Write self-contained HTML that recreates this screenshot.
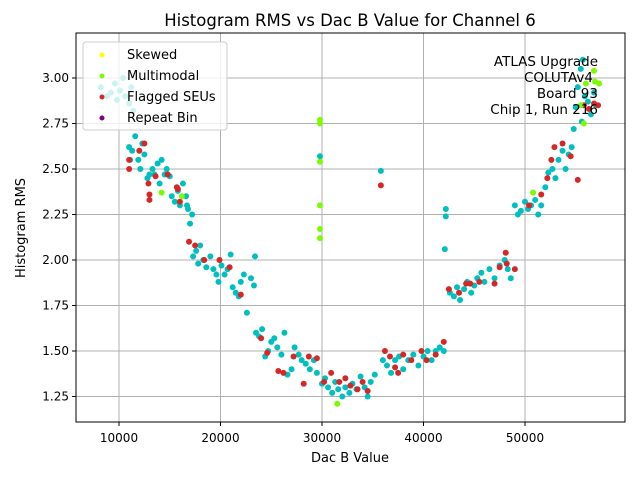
<!DOCTYPE html>
<html><head><meta charset="utf-8"><style>
body{margin:0;background:#fff;}
svg text{font-family:"DejaVu Sans","Liberation Sans",sans-serif;fill:#000;}
</style></head><body>
<svg id="chart" width="640" height="480" xmlns="http://www.w3.org/2000/svg">
<rect width="640" height="480" fill="#fff"/>
<g id="grid"></g>
<g id="marks"></g>
<rect x="76" y="33" width="549" height="389" fill="none" stroke="#000" stroke-width="1"/>
<g id="ticks"></g>
<text x="350" y="26" text-anchor="middle" font-size="16.5">Histogram RMS vs Dac B Value for Channel 6</text>
<text x="350" y="462" text-anchor="middle" font-size="13">Dac B Value</text>
<text x="25" y="228" text-anchor="middle" font-size="13" transform="rotate(-90 25 228)">Histogram RMS</text>
<g font-size="13.5" text-anchor="end">
<text x="598" y="66">ATLAS Upgrade</text>
<text x="593" y="82">COLUTAv4</text>
<text x="598" y="98">Board 93</text>
<text x="598" y="114">Chip 1, Run 216</text>
</g>
<g>
<rect x="83" y="42" width="144" height="88" rx="3" fill="#fff" fill-opacity="0.8" stroke="#ccc"/>
<g><circle cx="102" cy="55" r="2.5" fill="#ffff00"/><text x="127" y="59" font-size="13">Skewed</text></g>
<g><circle cx="102" cy="76" r="2.5" fill="#7cfc00"/><text x="127" y="80" font-size="13">Multimodal</text></g>
<g><circle cx="102" cy="97" r="2.5" fill="#d62728"/><text x="127" y="101" font-size="13">Flagged SEUs</text></g>
<g><circle cx="102" cy="118" r="2.5" fill="#800080"/><text x="127" y="122" font-size="13">Repeat Bin</text></g>
</g>
</svg>
<script>
const xTicks=[10000,20000,30000,40000,50000];
const yTicks=[1.25,1.5,1.75,2.0,2.25,2.5,2.75,3.0];
const yTickLabels=["1.25","1.50","1.75","2.00","2.25","2.50","2.75","3.00"];
const cyanPts=[[8200,2.95],[8800,2.9],[9200,2.92],[9600,2.97],[9800,2.88],[10100,2.93],[10400,3.0],[10600,2.9],[11200,2.95],[11400,2.82],[11000,2.86],
[11000,2.62],[11100,2.55],[11300,2.6],[11600,2.68],[11900,2.55],[12100,2.5],[12300,2.64],[12500,2.58],[12800,2.45],[13000,2.47],[13300,2.5],[13500,2.47],[13800,2.53],[14000,2.42],[14200,2.55],[14500,2.47],[14700,2.5],[15000,2.46],[15200,2.35],[15500,2.32],[15800,2.38],[16000,2.3],[16300,2.42],[16600,2.35],[16800,2.28],[17000,2.2],[17200,2.25],[16700,2.3],
[17300,2.02],[17600,2.05],[17800,1.98],[18000,2.08],[18300,2.0],[18600,1.96],[19000,2.02],[19300,1.95],[19600,1.92],[19800,1.88],[20100,1.97],[20400,1.92],[20700,1.95],[21000,2.03],[21200,1.85],[21500,1.82],[21800,1.8],[22000,1.88],[22300,1.92],[22600,1.71],[23000,1.9],[23300,1.86],[23400,2.02],
[23500,1.6],[23800,1.58],[24100,1.62],[24400,1.47],[24700,1.5],[25000,1.55],[25300,1.57],[25600,1.52],[26000,1.48],[26300,1.6],[26600,1.37],[27000,1.4],[27300,1.52],[27700,1.48],[28000,1.45],[28400,1.43],[28800,1.4],[29200,1.45],[29500,1.38],[29800,2.57],
[30000,1.32],[30300,1.35],[30600,1.3],[31000,1.27],[31300,1.33],[31600,1.29],[32000,1.25],[32300,1.3],[32700,1.27],[33000,1.32],[33400,1.29],[33800,1.36],[34200,1.3],[34500,1.25],[34800,1.33],[35200,1.37],[35800,2.49],[36000,1.45],[36400,1.42],[36800,1.38],[37200,1.45],[37600,1.47],[38000,1.4],[38500,1.45],[39000,1.48],[39500,1.42],[40000,1.47],[40400,1.5],[40800,1.45],[41200,1.5],[41600,1.52],[42000,1.5],
[42200,2.28],[42200,2.24],[42100,2.06],[42600,1.82],[43000,1.8],[43300,1.85],[43600,1.78],[44000,1.84],[44300,1.88],[44700,1.82],[45000,1.86],[45300,1.9],[45700,1.93],[46000,1.88],[46500,1.95],[47000,1.9],[47500,1.97],[48000,2.0],[48300,1.95],[48600,1.9],[49000,2.3],[49300,2.25],[49600,2.27],[50000,2.32],[50300,2.28],[50600,2.3],[51000,2.33],[51300,2.25],[51600,2.3],[52000,2.4],[52300,2.48],[52700,2.5],[53000,2.45],[53300,2.55],[53700,2.6],[54000,2.5],[54300,2.58],[54600,2.62],[54800,2.72],[55000,2.84],[55200,2.95],[55500,3.05],[55700,3.1],[55900,2.9],[56200,2.87],[56500,2.8],[56800,2.92],[57000,2.85],[55600,2.76]];
const redPts=[[11000,2.5],[11000,2.55],[12500,2.64],[12000,2.6],[13000,2.33],[13000,2.36],[12900,2.42],[13600,2.46],[14800,2.47],[15700,2.4],[15800,2.39],[16000,2.32],[16900,2.1],[17500,2.08],[18400,2.0],[19900,2.0],[20900,1.96],[22000,1.81],[24000,1.57],[24600,1.49],[25700,1.39],[26200,1.38],[27200,1.47],[28200,1.32],[28700,1.47],[29500,1.46],[30200,1.33],[30900,1.38],[31700,1.33],[32300,1.35],[32800,1.31],[33500,1.29],[34000,1.33],[34500,1.28],[35800,2.41],[36200,1.5],[36700,1.47],[37200,1.41],[37500,1.38],[38000,1.48],[38800,1.45],[39800,1.5],[40300,1.45],[41200,1.48],[42000,1.55],[42500,1.84],[43500,1.82],[44200,1.87],[44600,1.87],[45500,1.88],[47000,1.87],[47500,1.96],[48100,2.04],[48200,1.98],[49000,1.95],[50400,2.3],[51600,2.36],[52200,2.45],[52600,2.55],[52900,2.62],[53700,2.64],[54500,2.57],[55200,2.44],[55800,2.85],[56300,2.83],[56800,2.86],[57200,2.85]];
const greenPts=[[29800,2.77],[29800,2.75],[29800,2.54],[29800,2.3],[29800,2.17],[29800,2.12],[31500,1.21],[14200,2.37],[16200,2.35],[50800,2.37],[56800,3.04],[56900,2.98],[56000,2.97],[57300,2.97],[55500,2.85],[55800,2.75]];
const NS="http://www.w3.org/2000/svg";
function xs(v){return 17.5+v*101.5/10000;}
function ys(v){return 78+(3-v)*182;}
const grid=document.getElementById('grid'),ticks=document.getElementById('ticks'),marks=document.getElementById('marks');
function mk(tag,attrs,parent){const e=document.createElementNS(NS,tag);for(const k in attrs)e.setAttribute(k,attrs[k]);parent.appendChild(e);return e;}
xTicks.forEach(t=>{const x=xs(t);
const g=mk('line',{x1:x,x2:x,y1:33,y2:422,stroke:'#b0b0b0','stroke-width':1},grid);


const tk=mk('line',{x1:x,x2:x,y1:422,y2:426,stroke:'#000'},ticks);


const tx=mk('text',{x:x,y:442,'text-anchor':'middle','font-size':12},ticks);tx.textContent=String(t);

});
yTicks.forEach((t,i)=>{const y=ys(t);
const g=mk('line',{x1:76,x2:625,y1:y,y2:y,stroke:'#b0b0b0','stroke-width':1},grid);


const tk=mk('line',{x1:72,x2:76,y1:y,y2:y,stroke:'#000'},ticks);


const tx=mk('text',{x:69,y:y+4,'text-anchor':'end','font-size':12},ticks);tx.textContent=yTickLabels[i];

});
function draw(pts,color,name){pts.forEach(p=>{const c=mk('circle',{cx:xs(p[0]),cy:ys(p[1]),r:3,fill:color},marks);

});}
draw(cyanPts,'#00bfbf','point');
draw(redPts,'#d62728','point-flagged-seu');
draw(greenPts,'#7cfc00','point-multimodal');
</script>
</body></html>
